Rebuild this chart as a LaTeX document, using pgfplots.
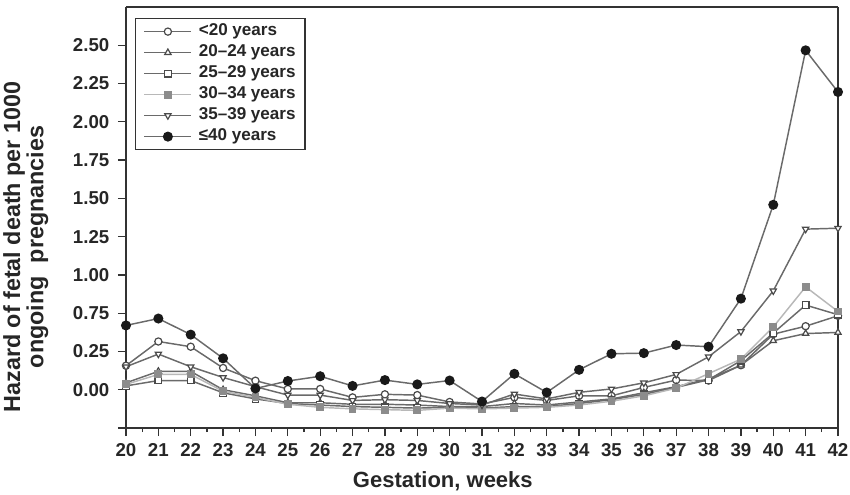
\documentclass[border=0pt]{standalone}
\usepackage{fontspec}
\setmainfont{Liberation Sans}
\usepackage{pgfplots}
\pgfplotsset{compat=1.18}
\definecolor{axisc}{HTML}{333333}
\definecolor{linec}{HTML}{6A6A6A}
\definecolor{markc}{HTML}{4A4A4A}
\definecolor{lightl}{HTML}{B8B8B8}
\definecolor{sqc}{HTML}{8C8C8C}
\begin{document}
\begin{tikzpicture}
\useasboundingbox (-94.5pt,-49.5pt) rectangle (543pt,321pt);
\begin{axis}[
  at={(0,0)}, anchor=south west,
  scale only axis, width=534pt, height=315.75pt,
  xmin=20, xmax=42, ymin=-0.25, ymax=2.5,
  xtick={20,...,42}, minor x tick num=1,
  ytick={-0.25,0,0.25,0.5,0.75,1,1.25,1.5,1.75,2,2.25},
  yticklabels={,0.00,0.25,0.75,1.00,1.25,1.50,1.75,2.00,2.25,2.50},
  xtick pos=left, ytick pos=left,
  tick align=outside, major tick length=6pt, minor tick length=3pt,
  separate axis lines,
  axis line style={axisc, line width=1.3pt},
  every tick/.append style={axisc, line width=1pt},
  /pgf/number format/assume math mode=true,
  ticklabel style={font=\fontsize{14}{15}\selectfont\bfseries, text=black!85},
  xticklabel style={anchor=north, yshift=-2pt},
  yticklabel style={anchor=east, xshift=-3pt},
  ylabel={Hazard of fetal death per 1000\\ongoing\ \ pregnancies},
  ylabel style={at={(axis description cs:-0.1025,0.43)}, anchor=south, align=center, font=\fontsize{17.5}{17.5}\selectfont\bfseries, text=black!85},
  xlabel={Gestation, weeks},
  xlabel style={at={(axis description cs:0.445,-0.126)}, anchor=center, font=\fontsize{16.5}{18}\selectfont\bfseries, text=black!85},
  legend style={at={(axis description cs:0.0126,0.974)}, anchor=north west, draw=axisc, line width=1pt, font=\fontsize{12.8}{13}\selectfont\bfseries, text=black!85, inner xsep=6pt, inner ysep=3pt, nodes={text height=9pt, text depth=2.5pt, inner sep=1pt}, row sep=2.25pt, /tikz/every odd column/.append style={column sep=4pt}},
  legend cell align=left,
  legend image code/.code={\draw[mark repeat=2,mark phase=2] plot coordinates {(0cm,0cm)(0.62cm,0cm)(1.24cm,0cm)};},
]
\addplot[color=linec, line width=1.1pt, mark=*, mark size=2.7pt, mark options={fill=white, draw=markc, line width=0.9pt, solid}]
coordinates {(20,0.157)(21,0.315)(22,0.281)(23,0.142)(24,0.059)(25,0.005)(26,0.005)(27,-0.05)(28,-0.03)(29,-0.035)(30,-0.08)(31,-0.093)(32,-0.05)(33,-0.07)(34,-0.04)(35,-0.04)(36,0.015)(37,0.063)(38,0.06)(39,0.16)(40,0.363)(41,0.415)(42,0.483)};
\addlegendentry{<20 years}
\addplot[color=linec, line width=1.1pt, mark=triangle*, mark size=2.7pt, mark options={fill=white, draw=markc, line width=0.9pt, solid}]
coordinates {(20,0.045)(21,0.12)(22,0.12)(23,0.0)(24,-0.04)(25,-0.085)(26,-0.085)(27,-0.095)(28,-0.095)(29,-0.1)(30,-0.11)(31,-0.11)(32,-0.09)(33,-0.1)(34,-0.08)(35,-0.06)(36,-0.02)(37,0.02)(38,0.07)(39,0.16)(40,0.32)(41,0.367)(42,0.374)};
\addlegendentry{20--24 years\hspace{12pt}}
\addplot[color=linec, line width=1.1pt, mark=square*, mark size=2.5pt, mark options={fill=white, draw=markc, line width=0.9pt, solid}]
coordinates {(20,0.025)(21,0.06)(22,0.06)(23,-0.02)(24,-0.06)(25,-0.09)(26,-0.1)(27,-0.11)(28,-0.115)(29,-0.12)(30,-0.115)(31,-0.12)(32,-0.11)(33,-0.11)(34,-0.09)(35,-0.065)(36,-0.03)(37,0.015)(38,0.065)(39,0.19)(40,0.37)(41,0.553)(42,0.49)};
\addlegendentry{25--29 years}
\addplot[color=lightl, line width=1.1pt, mark=square*, mark size=2.5pt, mark options={fill=sqc, draw=sqc, line width=0.9pt, solid}]
coordinates {(20,0.035)(21,0.1)(22,0.1)(23,-0.01)(24,-0.05)(25,-0.095)(26,-0.115)(27,-0.125)(28,-0.13)(29,-0.135)(30,-0.12)(31,-0.125)(32,-0.12)(33,-0.115)(34,-0.1)(35,-0.075)(36,-0.04)(37,0.01)(38,0.105)(39,0.2)(40,0.41)(41,0.672)(42,0.511)};
\addlegendentry{30--34 years}
\addplot[color=linec, line width=1.1pt, mark=triangle*, mark size=2.7pt, mark options={rotate=180, fill=white, draw=markc, line width=0.9pt, solid}]
coordinates {(20,0.15)(21,0.233)(22,0.15)(23,0.08)(24,0.02)(25,-0.035)(26,-0.035)(27,-0.07)(28,-0.065)(29,-0.07)(30,-0.09)(31,-0.1)(32,-0.028)(33,-0.06)(34,-0.017)(35,0.005)(36,0.045)(37,0.1)(38,0.215)(39,0.38)(40,0.646)(41,1.049)(42,1.055)};
\addlegendentry{35--39 years}
\addplot[color=linec, line width=1.1pt, mark=*, mark size=3.2pt, mark options={fill=black!90, draw=black!90, solid}]
coordinates {(20,0.42)(21,0.465)(22,0.36)(23,0.205)(24,0.008)(25,0.057)(26,0.088)(27,0.025)(28,0.063)(29,0.035)(30,0.06)(31,-0.077)(32,0.104)(33,-0.018)(34,0.13)(35,0.235)(36,0.239)(37,0.292)(38,0.281)(39,0.595)(40,1.208)(41,2.217)(42,1.945)};
\addlegendentry{≤40 years}
\end{axis}
\end{tikzpicture}
\end{document}
